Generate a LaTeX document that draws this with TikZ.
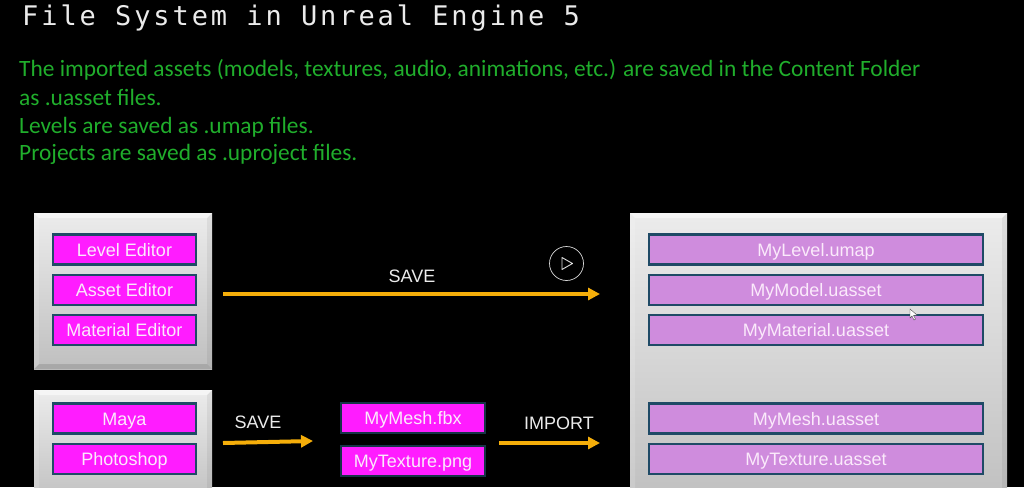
\documentclass[tikz,border=0pt]{standalone}
\usepackage{fontspec}
\setmainfont{Liberation Sans}
\newfontfamily\titlefont[LetterSpace=10.8]{DejaVu Sans Mono}
\newfontfamily\bodyfont{Carlito}
\usetikzlibrary{arrows.meta}
\definecolor{pagebg}{HTML}{000000}
\definecolor{bodygreen}{HTML}{20AE2C}
\definecolor{btnedge}{HTML}{1F4A66}
\definecolor{btnmag}{HTML}{FF1CFF}
\definecolor{btnlil}{HTML}{CF8CDD}
\definecolor{arrowgold}{HTML}{F5AE0A}
\definecolor{btntext}{HTML}{FBEAFB}
\tikzset{
  x=1pt,y=-1pt,
  panel/.style={minimum width=#1,inner sep=0pt,outer sep=0pt,top color=gray!15,bottom color=gray!50,
    path picture={
      \fill[white,opacity=.55] (path picture bounding box.north west) -- (path picture bounding box.north east) -- ([shift={(-5pt,-5pt)}]path picture bounding box.north east) -- ([shift={(5pt,-5pt)}]path picture bounding box.north west) -- cycle;
      \fill[black,opacity=.12] (path picture bounding box.south west) -- (path picture bounding box.south east) -- ([shift={(-5pt,5pt)}]path picture bounding box.south east) -- ([shift={(5pt,5pt)}]path picture bounding box.south west) -- cycle;
      \fill[white,opacity=.15] (path picture bounding box.north west) -- (path picture bounding box.south west) -- ([shift={(5pt,5pt)}]path picture bounding box.south west) -- ([shift={(5pt,-5pt)}]path picture bounding box.north west) -- cycle;
      \fill[black,opacity=.06] (path picture bounding box.north east) -- (path picture bounding box.south east) -- ([shift={(-5pt,5pt)}]path picture bounding box.south east) -- ([shift={(-5pt,-5pt)}]path picture bounding box.north east) -- cycle;
    }},
  btn/.style={draw=btnedge,line width=2.4pt,fill=btnmag,text=btntext,font=\fontsize{18}{20}\selectfont,text height=13pt,text depth=0pt,inner sep=0pt,outer sep=0pt,minimum height=30pt,minimum width=143pt},
  wide/.style={btn,fill=btnlil,minimum width=334pt},
  flat/.style={btn,draw=btnedge!70!black,line width=1.2pt,minimum width=144pt,minimum height=30pt},
  flow/.style={draw=arrowgold,line width=4pt,-{Triangle[length=12pt,width=12pt]}},
  lbl/.style={text=white!92!black,font=\fontsize{18}{20}\selectfont,inner sep=0pt},
  bodyline/.style={anchor=base west,inner sep=0pt,text=bodygreen,font=\bodyfont\fontsize{23.4}{26}\selectfont},
}
\begin{document}
\begin{tikzpicture}
\useasboundingbox (0,0) rectangle (1024,487);
\clip (0,0) rectangle (1024,487);
\fill[pagebg] (0,0) rectangle (1024,487);
\node[anchor=base west,inner sep=0pt,text=white!92!black,font=\titlefont\fontsize{27}{30}\selectfont] (title) at (22,26) {File System in Unreal Engine 5};
\node[bodyline] (t1) at (19,77) {The imported assets (models, textures, audio, animations, etc.) are saved in the Content Folder};
\node[bodyline] (t2) at (19,105) {as .uasset files.};
\node[bodyline] (t3) at (19,133) {Levels are saved as .umap files.};
\node[bodyline] (t4) at (19,160) {Projects are saved as .uproject files.};
% panels
\node[panel=178pt,minimum height=156pt] (pa) at (123,291) {};
\node[panel=178pt,minimum height=115pt] (pb) at (123,447.5) {};
\node[panel=377pt,minimum height=290pt] (pc) at (818.5,358) {};
% editor buttons
\node[btn] (le) at (124.5,249.5) {Level Editor};
\node[btn] (ae) at (124.5,290) {Asset Editor};
\node[btn] (me) at (124.5,330) {Material Editor};
\node[btn] (ma) at (124.5,418.5) {Maya};
\node[btn] (ph) at (124.5,459) {Photoshop};
% asset buttons
\node[wide] (r1) at (816,249.5) {MyLevel.umap};
\node[wide] (r2) at (816,290) {MyModel.uasset};
\node[wide] (r3) at (816,330) {MyMaterial.uasset};
\node[wide] (r4) at (816,418.5) {MyMesh.uasset};
\node[wide] (r5) at (816,459) {MyTexture.uasset};
% middle files
\node[flat] (f1) at (413,418) {MyMesh.fbx};
\node[flat] (f2) at (413,461) {MyTexture.png};
% arrows
\coordinate (a1s) at (223,294);
\coordinate (a1e) at (600,294);
\coordinate (a2s) at (223,443);
\coordinate (a2e) at (313,441);
\coordinate (a3s) at (499,443);
\coordinate (a3e) at (600,443);
\draw[flow] (a1s) -- (a1e);
\draw[flow] (a2s) -- (a2e);
\draw[flow] (a3s) -- (a3e);
\node[lbl] (s1) at (412,276) {SAVE};
\node[lbl] (s2) at (258,422) {SAVE};
\node[lbl] (s3) at (559,423) {IMPORT};
% video overlay
\node[draw=white!85!black,line width=.7pt,circle,minimum size=34pt,inner sep=0pt] (play) at (566.5,263.5) {};
\draw[white!90!black,line width=.9pt,line join=round] (562,257.5) -- (572.5,263.5) -- (562,269.5) -- cycle;
% cursor
\filldraw[fill=white,draw=black!70,line width=.4pt] (910,309) -- (910,318) -- (912,316) -- (914,320) -- (915.5,319) -- (913.5,315.5) -- (917,315) -- cycle;
\end{tikzpicture}
\end{document}
